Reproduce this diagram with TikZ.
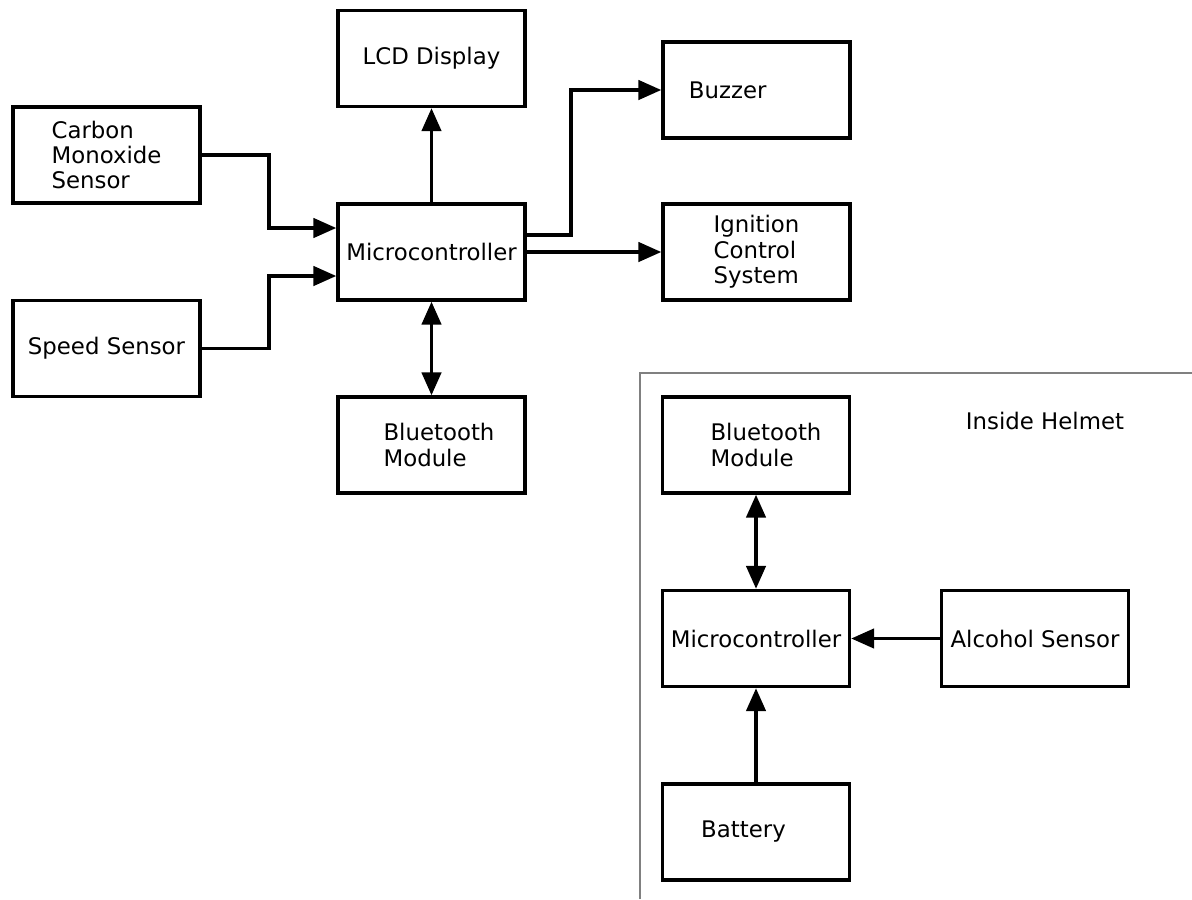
\documentclass[tikz,border=0pt]{standalone}
\usepackage{fontspec}
\setmainfont{DejaVu Sans}
\usepackage{tikz}
\usetikzlibrary{arrows.meta,calc}
\tikzset{
>={Triangle[length=13pt,width=11pt]},
block node/.style={draw,line width=2pt,minimum width=3.74cm,minimum height=1.92cm,inner sep=1pt,align=left},
link/.style={->,line width=1.9pt},
both link/.style={<->,line width=1.9pt}}

\begin{document}
\begin{tikzpicture}[x=0.02cm,y=-0.02cm,font=\fontsize{13}{14.5}\selectfont]

\useasboundingbox (0,0) rectangle (1192,899);

      % outside the helmet
      \node[block node] (lcd) at (431.5,58.5) {LCD Display};
      \node[block node] (co) at (106.5,155) {Carbon\\Monoxide\\Sensor};
      \node[block node] (speed) at (106.5,348.5) {Speed Sensor};
      \node[block node] (mc) at (431.5,252) {Microcontroller};
      \node[block node] (bt) at (431.5,445) {\hspace*{0.3cm}Bluetooth\\\hspace*{0.3cm}Module};
      \node[block node] (buzzer) at (756.5,90) {Buzzer\hspace*{1.15cm}};
      \node[block node] (ign) at (756.5,252) {Ignition\\Control\\System};

      % inside the helmet
      \draw[gray,line width=0.7pt] (640,899) -- (640,373) -- (1192,373);
      \node (helmet) at (1045,421) {Inside Helmet};
      \node[block node] (hbt) at (756,445) {\hspace*{0.4cm}Bluetooth\\\hspace*{0.4cm}Module};
      \node[block node] (hmc) at (756,638.5) {Microcontroller};
      \node[block node] (alc) at (1035,638.5) {Alcohol Sensor};
      \node[block node] (bat) at (756,832) {Battery\hspace*{0.5cm}};

      \draw[link] (co.east) -- (269,155) |- ($(mc.west)+(0,-24)$);
      \draw[link] (speed.east) -- (269,348.5) |- ($(mc.west)+(0,24)$);
      \draw[link] (mc.north) -- (lcd.south);
      \draw[both link] (mc.south) -- (bt.north);
      \draw[link] ($(mc.east)+(0,-17)$) -- (571,235) |- (buzzer.west);
      \draw[link] (mc.east) -- (ign.west);

      \draw[both link] (hmc.north) -- (hbt.south);
      \draw[link] (alc.west) -- (hmc.east);
      \draw[link] (bat.north) -- (hmc.south);
\end{tikzpicture}
\end{document}
